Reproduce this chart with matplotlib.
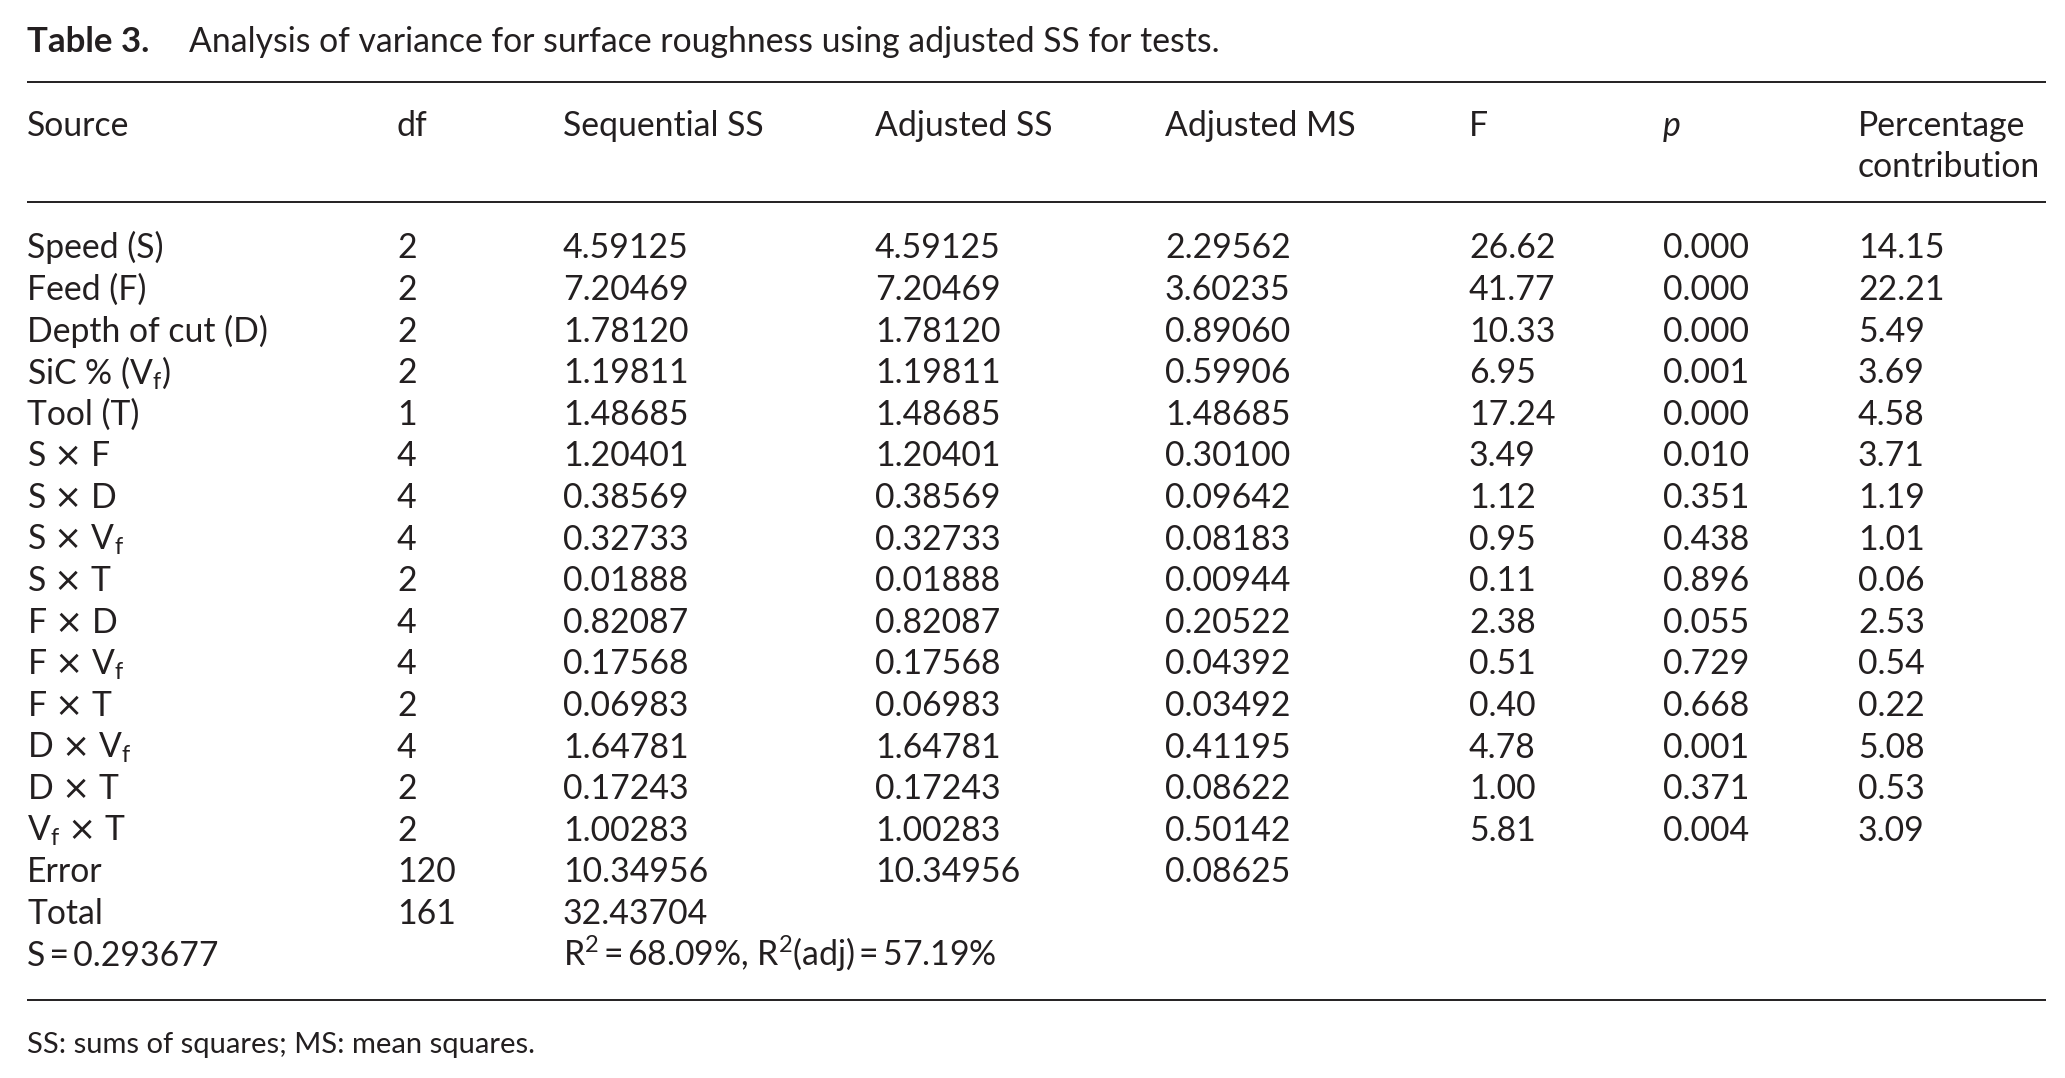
import matplotlib
matplotlib.use("Agg")
import matplotlib.pyplot as plt

plt.rcParams["font.family"] = ["Lato", "DejaVu Sans"]
INK = "#231f20"
X = r"$\times$"
VF = r"$\mathregular{V_f}$"
TS = "\u2009"

# table data
headers = ["Source", "df", "Sequential SS", "Adjusted SS", "Adjusted MS", "F", "p",
           "Percentage\ncontribution"]
sources = ["Speed (S)", "Feed (F)", "Depth of cut (D)", "SiC % (" + VF + ")", "Tool (T)",
           "S " + X + " F", "S " + X + " D", "S " + X + " " + VF, "S " + X + " T",
           "F " + X + " D", "F " + X + " " + VF, "F " + X + " T", "D " + X + " " + VF,
           "D " + X + " T", VF + " " + X + " T", "Error", "Total", "S" + TS + "=" + TS + "0.293677"]
df = ["2", "2", "2", "2", "1", "4", "4", "4", "2", "4", "4", "2", "4", "2", "2", "120", "161", ""]
seq_ss = ["4.59125", "7.20469", "1.78120", "1.19811", "1.48685", "1.20401", "0.38569", "0.32733",
          "0.01888", "0.82087", "0.17568", "0.06983", "1.64781", "0.17243", "1.00283", "10.34956",
          "32.43704",
          r"$\mathregular{R^2}$" + TS + "=" + TS + "68.09%, " + r"$\mathregular{R^2}$(adj)" + TS + "="
          + TS + "57.19%"]
adj_ss = ["4.59125", "7.20469", "1.78120", "1.19811", "1.48685", "1.20401", "0.38569", "0.32733",
          "0.01888", "0.82087", "0.17568", "0.06983", "1.64781", "0.17243", "1.00283", "10.34956",
          "", ""]
adj_ms = ["2.29562", "3.60235", "0.89060", "0.59906", "1.48685", "0.30100", "0.09642", "0.08183",
          "0.00944", "0.20522", "0.04392", "0.03492", "0.41195", "0.08622", "0.50142", "0.08625",
          "", ""]
f_vals = ["26.62", "41.77", "10.33", "6.95", "17.24", "3.49", "1.12", "0.95", "0.11", "2.38",
          "0.51", "0.40", "4.78", "1.00", "5.81", "", "", ""]
p_vals = ["0.000", "0.000", "0.000", "0.001", "0.000", "0.010", "0.351", "0.438", "0.896", "0.055",
          "0.729", "0.668", "0.001", "0.371", "0.004", "", "", ""]
pct = ["14.15", "22.21", "5.49", "3.69", "4.58", "3.71", "1.19", "1.01", "0.06", "2.53", "0.54",
       "0.22", "5.08", "0.53", "3.09", "", "", ""]
columns = [sources, df, seq_ss, adj_ss, adj_ms, f_vals, p_vals, pct]

W, H = 2065, 1078
fig = plt.figure(figsize=(W / 100, H / 100), dpi=100)
ax = fig.add_axes([0, 0, 1, 1])
ax.set_xlim(0, W)
ax.set_ylim(H, 0)
ax.axis("off")

FS = 24.3
col_x = [27, 397, 563, 875, 1165, 1469, 1663, 1858]
row0, dy = 258.5, 41.6

ax.text(27, 51.5, "Table 3.", fontsize=FS + 0.8, fontweight="bold", color=INK, va="baseline")
ax.text(189, 51.5, "Analysis of variance for surface roughness using adjusted SS for tests.",
        fontsize=FS, color=INK, va="baseline")

for y in (82, 202, 1000):
    ax.plot([27, 2046], [y, y], color=INK, lw=1.4, solid_capstyle="butt")

# header (last one wraps onto two lines)
for x, h in zip(col_x, headers):
    for k, part in enumerate(h.split("\n")):
        ax.text(x, 136 + k * 41, part, fontsize=FS, color=INK, va="baseline",
                style="italic" if h == "p" else "normal")

for x, col in zip(col_x, columns):
    for i, val in enumerate(col):
        if val:
            ax.text(x, row0 + i * dy, val, fontsize=FS, color=INK, va="baseline")

ax.text(27, 1053, "SS: sums of squares; MS: mean squares.", fontsize=21, color=INK, va="baseline")

fig.savefig("out.png", dpi=100, facecolor="white")
